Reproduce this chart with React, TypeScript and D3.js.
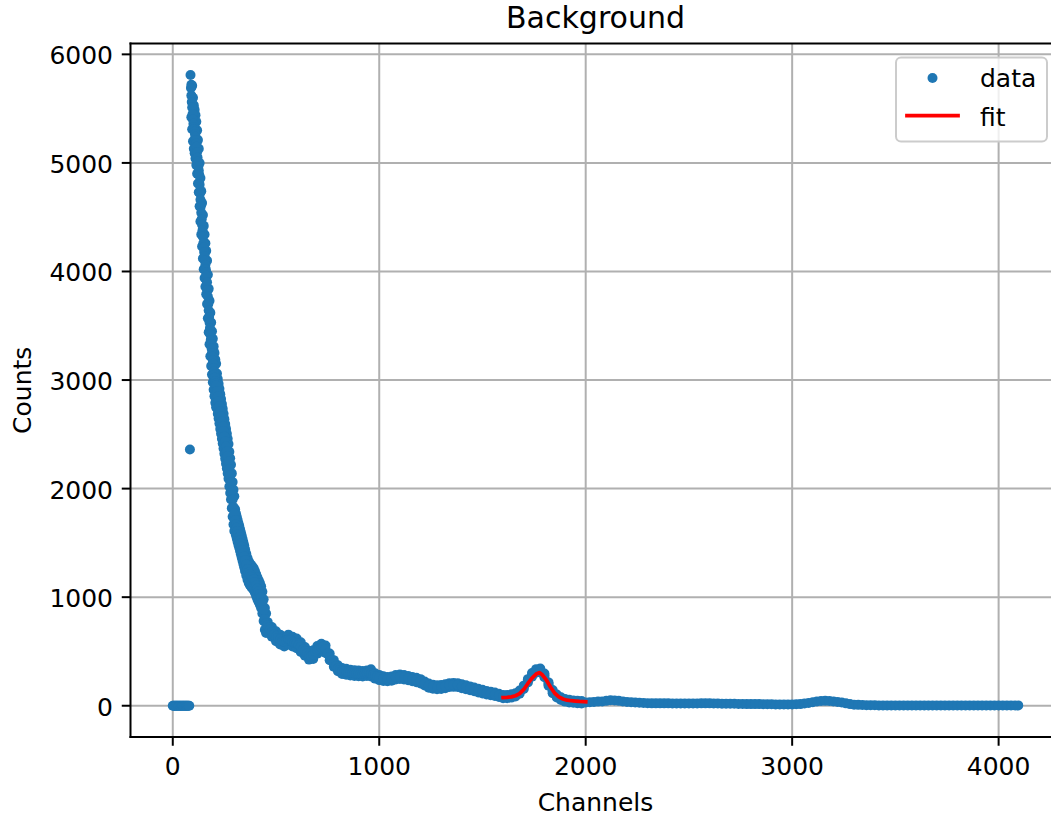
import React from "react";
import * as d3 from "d3";

// ---- data ----
const zeroChannels = [0, 4, 8, 12, 16, 20, 24, 28, 32, 36, 40, 44, 48, 52, 56, 60, 64, 68, 72, 76, 80, 83];
const zeroCounts = [0, 0, 0, 0, 0, 0, 0, 0, 0, 0, 0, 0, 0, 0, 0, 0, 0, 0, 0, 0, 0, 2360];

const decayChannels = [
  86, 88, 90, 92, 94, 96, 98, 100, 102, 104, 106, 108, 110, 112, 114, 116, 118, 120, 122, 124, 126, 128,
  130, 132, 134, 136, 138, 140, 142, 144, 146, 148, 150, 152, 154, 156, 158, 160, 162, 164, 166, 168,
  170, 172, 174, 176, 178, 180, 182, 184, 186, 188, 190, 192, 194, 196, 198, 200, 202, 204, 206, 208, 210,
  214, 218, 222, 226, 230, 234, 238, 242, 246, 250, 254, 258, 262, 266, 270, 274, 278, 282, 286, 290, 294, 298,
  302, 306, 310, 314, 318, 322, 326, 330, 334, 338, 342, 346, 350, 356, 362, 368, 374, 380, 386, 392, 398,
  404, 410, 416, 422, 428, 434, 440, 446, 452, 458, 464,
  470, 480, 490, 500, 510, 520, 530, 540, 550, 560, 570, 580, 590, 600, 610, 620, 630, 640, 650, 660, 670,
  680, 690, 700, 710, 720, 730, 740, 750, 760, 770, 780, 790, 800, 810, 820, 830, 840, 850, 860, 870, 880,
  890, 900, 910, 920, 930, 940, 950, 960, 970, 980, 990, 1000,
];
const decayCounts = [
  5810, 5690, 5620, 5560, 5510, 5450, 5400, 5360, 5330, 5310, 5290, 5265, 5240, 5210, 5180, 5150, 5100, 5050, 5010, 4970, 4930, 4890,
  4800, 4720, 4660, 4600, 4540, 4480, 4430, 4380, 4320, 4260, 4220, 4180, 4140, 4100, 4060, 4020, 3990, 3960, 3900, 3830,
  3770, 3700, 3640, 3580, 3530, 3480, 3420, 3370, 3330, 3290, 3250, 3215, 3180, 3150, 3110, 3080, 3050, 3020, 2990, 2970, 2950,
  2900, 2850, 2805, 2760, 2710, 2665, 2620, 2575, 2530, 2480, 2435, 2390, 2345, 2300, 2250, 2180, 2120, 2060, 1980, 1900, 1830, 1770,
  1710, 1670, 1640, 1610, 1580, 1555, 1526, 1495, 1465, 1435, 1405, 1375, 1342, 1300, 1260, 1230, 1210, 1195, 1180, 1165, 1140,
  1110, 1080, 1055, 1030, 1000, 950, 880, 800, 760, 740, 720,
  700, 680, 655, 640, 625, 610, 595, 590, 600, 610, 605, 590, 580, 575, 560, 540, 515, 500, 480, 465, 455,
  470, 500, 515, 525, 535, 545, 520, 480, 450, 420, 390, 365, 345, 330, 320, 316, 313, 309, 305, 302, 300,
  299, 298, 296, 295, 298, 300, 305, 295, 285, 275, 268, 260,
];

const midChannels = [
  1020, 1040, 1060, 1080, 1100, 1120, 1140, 1160, 1180, 1200, 1220, 1240, 1260, 1280, 1300, 1320, 1340, 1360,
  1380, 1400, 1420, 1440, 1460, 1480, 1500, 1520, 1540, 1560, 1580, 1600, 1620, 1640, 1660, 1680, 1700, 1720,
  1740, 1760, 1780, 1800, 1820, 1840, 1860, 1880, 1900, 1920, 1940, 1960, 1980, 2000,
];
const midCounts = [
  250, 245, 250, 262, 267, 262, 255, 245, 237, 225, 205, 185, 175, 170, 172, 180, 190, 192,
  190, 180, 170, 160, 150, 140, 130, 120, 112, 105, 95, 85, 85, 90, 100, 125, 170, 230,
  285, 320, 325, 280, 200, 130, 90, 65, 50, 42, 38, 35, 32, 30,
];

const tailChannels = [
  2020, 2040, 2060, 2080, 2100, 2120, 2140, 2160, 2180, 2200, 2220, 2240, 2260, 2280, 2300, 2320, 2340, 2360,
  2380, 2400, 2420, 2440, 2460, 2480, 2500, 2520, 2540, 2560, 2580, 2600, 2620, 2640, 2660, 2680, 2700, 2720,
  2740, 2760, 2780, 2800, 2820, 2840, 2860, 2880, 2900, 2920, 2940, 2960, 2980, 3000, 3020, 3040, 3060, 3080,
  3100, 3120, 3140, 3160, 3180, 3200, 3220, 3240, 3260, 3280, 3300, 3320, 3340, 3360, 3380, 3400, 3420, 3440,
  3460, 3480, 3500, 3520, 3540, 3560, 3580, 3600, 3620, 3640, 3660, 3680, 3700, 3720, 3740, 3760, 3780, 3800,
  3820, 3840, 3860, 3880, 3900, 3920, 3940, 3960, 3980, 4000, 4020, 4040, 4060, 4080, 4095,
];
const tailCounts = [
  32, 35, 38, 40, 45, 50, 48, 45, 40, 35, 32, 30, 27, 25, 23, 22, 22, 22,
  22, 22, 21, 20, 20, 20, 20, 20, 21, 22, 22, 22, 21, 20, 19, 18, 18, 18,
  17, 16, 15, 15, 15, 15, 14, 14, 13, 12, 12, 12, 12, 12, 13, 15, 20, 25,
  32, 40, 44, 45, 43, 40, 35, 30, 22, 15, 10, 8, 6, 5, 4, 4, 3, 3,
  3, 3, 3, 3, 3, 3, 3, 3, 3, 3, 3, 3, 3, 3, 3, 3, 3, 3,
  3, 3, 3, 3, 3, 3, 3, 3, 3, 3, 3, 3, 3, 3, 3,
];

// scatter spread of the steep decay (lower / upper edge of the points)
const steepChannels = [
  90, 94, 98, 102, 106, 110, 114, 118, 122, 126, 130, 134, 138, 142, 146, 150, 154, 158, 162, 166, 170,
  174, 178, 182, 186, 190, 194, 198, 202, 206, 210,
  214, 218, 222, 226, 230, 234, 238, 242, 246, 250, 254, 258, 262, 266, 270, 274, 278, 282, 286, 290, 294, 298,
  302, 306, 310, 314, 318, 322, 326, 330, 334, 338, 342, 346, 350, 356, 362, 368, 374, 380, 386, 392, 398,
  404, 410, 416, 422, 428, 434, 440, 446, 452,
];
const steepLow = [
  5420, 5310, 5200, 5130, 5090, 5040, 4980, 4900, 4810, 4730, 4600, 4460, 4340, 4230, 4120, 4020, 3940, 3860, 3790, 3700, 3570,
  3440, 3330, 3220, 3130, 3050, 2980, 2910, 2850, 2790, 2750,
  2740, 2690, 2645, 2600, 2550, 2505, 2460, 2415, 2370, 2320, 2275, 2230, 2185, 2140, 2090, 2020, 1960, 1900, 1820, 1740, 1670, 1610,
  1610, 1570, 1540, 1510, 1480, 1455, 1426, 1395, 1365, 1335, 1305, 1275, 1242, 1200, 1160, 1130, 1110, 1095, 1080, 1065, 1040,
  1010, 980, 955, 930, 900, 850, 780, 700, 670,
];
const steepHigh = [
  5720, 5710, 5600, 5530, 5490, 5440, 5380, 5300, 5210, 5130, 5000, 4860, 4740, 4630, 4520, 4420, 4340, 4260, 4190, 4100, 3970,
  3840, 3730, 3620, 3530, 3450, 3380, 3310, 3250, 3190, 3150,
  3060, 3010, 2965, 2920, 2870, 2825, 2780, 2735, 2690, 2640, 2595, 2550, 2505, 2460, 2410, 2340, 2280, 2220, 2140, 2060, 1990, 1930,
  1810, 1770, 1740, 1710, 1680, 1655, 1626, 1595, 1565, 1535, 1505, 1475, 1442, 1400, 1360, 1330, 1310, 1295, 1280, 1265, 1240,
  1210, 1180, 1155, 1130, 1100, 1050, 980, 900, 850,
];

// upper / lower edge of the noisy band of points in the flat part
const bandChannels = [
  460, 480, 500, 520, 540, 560, 580, 600, 620, 640, 660, 680, 700, 720, 740, 760, 780, 800, 820, 840, 860,
  880, 900, 920, 940, 960, 980, 1000, 1020, 1040, 1060, 1080, 1100, 1120, 1140, 1160, 1180, 1200, 1220, 1240,
  1260, 1280, 1300, 1320, 1340, 1360, 1380, 1400, 1420, 1440, 1460, 1480, 1500, 1520, 1540, 1560, 1580, 1600,
  1620, 1640, 1660, 1680, 1700, 1720, 1740, 1760, 1780, 1800, 1820, 1840, 1860, 1880, 1900, 1920, 1940, 1960, 1980,
];
const bandLow = [
  690, 635, 595, 565, 545, 565, 545, 530, 495, 460, 425, 430, 480, 500, 485, 420, 360, 318, 293, 286, 278,
  274, 272, 270, 275, 270, 250, 236, 228, 225, 230, 242, 247, 242, 235, 225, 217, 205, 186, 166,
  157, 152, 154, 162, 172, 174, 172, 162, 152, 142, 133, 123, 113, 104, 96, 89, 80, 70,
  70, 75, 85, 110, 155, 215, 268, 303, 308, 263, 185, 115, 76, 52, 38, 30, 27, 24, 21,
];
const bandHigh = [
  770, 725, 685, 655, 635, 655, 635, 620, 585, 540, 505, 510, 550, 570, 555, 480, 420, 372, 347, 340, 332,
  326, 324, 320, 325, 335, 300, 284, 272, 265, 270, 282, 287, 282, 275, 265, 257, 245, 224, 204,
  193, 188, 190, 198, 208, 210, 208, 198, 188, 178, 167, 157, 147, 136, 128, 121, 110, 100,
  100, 105, 115, 140, 185, 245, 302, 337, 342, 297, 215, 145, 104, 78, 62, 54, 49, 46, 43,
];

const fitChannels = [1600, 1620, 1640, 1660, 1680, 1700, 1720, 1740, 1760, 1775, 1790, 1810, 1830, 1850, 1870, 1890, 1910, 1930, 1950, 1970, 2000];
const fitCounts = [75, 78, 82, 92, 112, 150, 205, 255, 292, 305, 285, 235, 170, 115, 82, 62, 51, 46, 43, 40, 37];

const xTicks = [0, 1000, 2000, 3000, 4000];
const yTicks = [0, 1000, 2000, 3000, 4000, 5000, 6000];

const BLUE = "#1f77b4";
const FONT = "DejaVu Sans";

export default function App() {
  const left = 130.5, right = 1060.5, top = 43.5, bottom = 737;
  const x = d3.scaleLinear().domain([-204.75, 4299.75]).range([left, right]);
  const y = d3.scaleLinear().domain([-288, 6100]).range([bottom, top]);

  const pts: [number, number][] = [];
  const add = (cs: number[], vs: number[]) => cs.forEach((c, i) => pts.push([c, vs[i]]));
  add(zeroChannels, zeroCounts);
  add(steepChannels, steepLow);
  add(steepChannels, steepHigh);
  add(bandChannels, bandLow);
  add(bandChannels, bandHigh);
  add(decayChannels, decayCounts);
  add(midChannels, midCounts);
  add(tailChannels, tailCounts);

  const fitLine = d3
    .line<number>()
    .x((_, i) => x(fitChannels[i]))
    .y((v) => y(v))(fitCounts) as string;

  const tickLen = 8.75;
  const r = 5;

  return (
    <svg
      width={1051}
      height={819}
      style={{ position: "absolute", left: 0, top: 0, background: "#fff" }}
      fontFamily={FONT}
    >
      <rect x={0} y={0} width={1051} height={819} fill="#fff" />
      <defs>
        <clipPath id="plotclip">
          <rect x={left} y={top} width={right - left} height={bottom - top} />
        </clipPath>
      </defs>
      {/* grid */}
      <g stroke="#b0b0b0" strokeWidth={2}>
        {xTicks.map((t) => (
          <line key={"gx" + t} x1={x(t)} x2={x(t)} y1={top} y2={bottom} />
        ))}
        {yTicks.map((t) => (
          <line key={"gy" + t} x1={left} x2={right} y1={y(t)} y2={y(t)} />
        ))}
      </g>
      {/* data */}
      <g clipPath="url(#plotclip)" fill={BLUE}>
        {pts.map(([c, v], i) => (
          <circle key={i} cx={x(c)} cy={y(v)} r={r} />
        ))}
        <path d={fitLine} fill="none" stroke="#ff0000" strokeWidth={3.75} strokeLinecap="square" strokeLinejoin="round" />
      </g>
      {/* spines */}
      <g stroke="#000" strokeWidth={2} fill="none">
        <line x1={left} x2={left} y1={top - 1} y2={bottom + 1} />
        <line x1={left - 1} x2={right} y1={bottom} y2={bottom} />
        <line x1={left - 1} x2={right} y1={top} y2={top} />
        <line x1={right} x2={right} y1={top} y2={bottom} />
      </g>
      {/* ticks */}
      <g stroke="#000" strokeWidth={2}>
        {xTicks.map((t) => (
          <line key={"tx" + t} x1={x(t)} x2={x(t)} y1={bottom} y2={bottom + tickLen} />
        ))}
        {yTicks.map((t) => (
          <line key={"ty" + t} x1={left - tickLen} x2={left} y1={y(t)} y2={y(t)} />
        ))}
      </g>
      <g fontSize={25} fill="#000">
        {xTicks.map((t) => (
          <text key={"lx" + t} x={x(t)} y={775} textAnchor="middle">
            {t}
          </text>
        ))}
        {yTicks.map((t) => (
          <text key={"ly" + t} x={113} y={y(t) + 10} textAnchor="end">
            {t}
          </text>
        ))}
      </g>
      <text x={(left + right) / 2} y={811} fontSize={25} textAnchor="middle">
        Channels
      </text>
      <text transform={`translate(31, ${(top + bottom) / 2}) rotate(-90)`} fontSize={25} textAnchor="middle">
        Counts
      </text>
      <text x={(left + right) / 2} y={28} fontSize={30} textAnchor="middle">
        Background
      </text>
      {/* legend */}
      <g>
        <rect x={896} y={57.5} width={151} height={84} rx={5} fill="#fff" fillOpacity={0.8} stroke="#cccccc" strokeWidth={2} />
        <circle cx={932.5} cy={78} r={r} fill={BLUE} />
        <text x={980} y={87} fontSize={25}>
          data
        </text>
        <line x1={907} x2={958} y1={115.7} y2={115.7} stroke="#ff0000" strokeWidth={3.75} strokeLinecap="square" />
        <text x={980} y={125.5} fontSize={25}>
          fit
        </text>
      </g>
    </svg>
  );
}
